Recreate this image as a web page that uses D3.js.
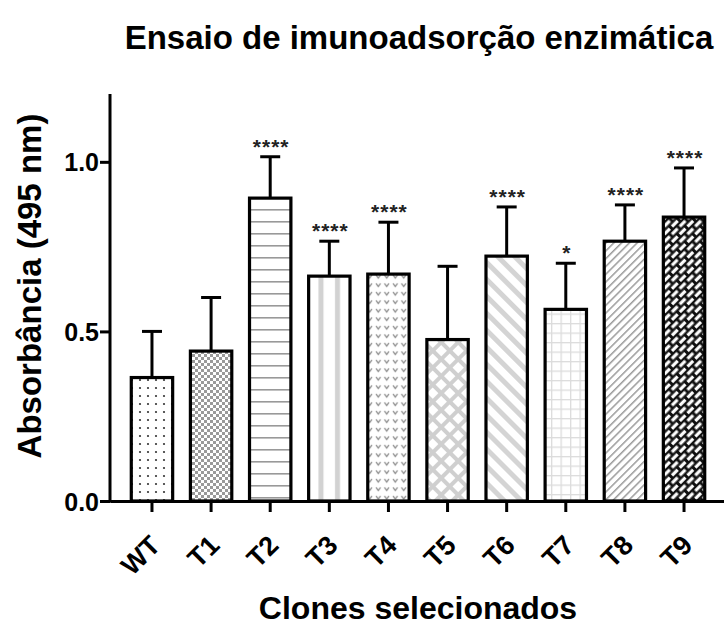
<!DOCTYPE html>
<html lang="en">
<head>
    <meta charset="utf-8">
    <title>Ensaio de imunoadsorção enzimática</title>
    <script src="https://cdn.jsdelivr.net/npm/d3@7"></script>
    <style type="text/css">
        body
        {
            margin: 0;
            background-color: white;
        }
        svg
        {
            font-family: "Liberation Sans", Arial, sans-serif;
        }
    </style>
</head>
<body>
    <div id="chart_div"></div>
    <script>
    "use strict";
    // values
    var clones = ["WT", "T1", "T2", "T3", "T4", "T5", "T6", "T7", "T8", "T9"];
    var means = [0.364, 0.442, 0.893, 0.663, 0.669, 0.476, 0.722, 0.565, 0.766, 0.837];
    var upperSD = [0.500, 0.600, 1.015, 0.766, 0.822, 0.692, 0.867, 0.701, 0.873, 0.982];
    var signif = ["", "", "****", "****", "****", "", "****", "*", "****", "****"];
    var yTicks = [0.0, 0.5, 1.0];
    var patternIds = ["p_dots", "p_check", "p_hlines", "p_vstripes", "p_vees", "p_diamond", "p_back", "p_grid", "p_fwd", "p_brick"];

    var svg_width = 724;
    var svg_height = 625;
    var left = 110, baseY = 501, topY = 94;

    var svg = d3.select("#chart_div")
        .append("svg")
        .attr("width", svg_width)
        .attr("height", svg_height);

    // ---- fill patterns ----
    var defs = svg.append("defs");
    function pat(id, w, h, rot)
    {
        var p = defs.append("pattern")
            .attr("id", id)
            .attr("patternUnits", "userSpaceOnUse")
            .attr("width", w)
            .attr("height", h);
        if (rot) p.attr("patternTransform", "rotate(" + rot + ")");
        p.append("rect").attr("width", w).attr("height", h).attr("fill", "white");
        return p;
    }
    var p;
    p = pat("p_dots", 8, 8);
    p.append("circle").attr("cx", 4).attr("cy", 4).attr("r", 1.1).attr("fill", "#333");

    p = pat("p_check", 6, 6);
    p.append("rect").attr("width", 3).attr("height", 3).attr("fill", "#9a9a9a");
    p.append("rect").attr("x", 3).attr("y", 3).attr("width", 3).attr("height", 3).attr("fill", "#9a9a9a");

    p = pat("p_hlines", 12, 12);
    p.append("rect").attr("y", 5).attr("width", 12).attr("height", 1.6).attr("fill", "#999");

    p = pat("p_vstripes", 16.5, 16.5);
    p.append("rect").attr("x", 5).attr("width", 5).attr("height", 16.5).attr("fill", "#d2d2d2");

    p = pat("p_vees", 8.5, 8.5);
    p.append("path").attr("d", "M2,3 L4.25,6 L6.5,3").attr("fill", "none")
        .attr("stroke", "#8a8a8a").attr("stroke-width", 1.3);

    p = pat("p_diamond", 12, 12, 45);
    p.append("rect").attr("width", 12).attr("height", 4).attr("fill", "#cfcfcf");
    p.append("rect").attr("width", 4).attr("height", 12).attr("fill", "#cfcfcf");

    p = pat("p_back", 12, 12, -45);
    p.append("rect").attr("width", 5).attr("height", 12).attr("fill", "#d4d4d4");

    p = pat("p_grid", 9.5, 9.5);
    p.append("rect").attr("width", 9.5).attr("height", 1.3).attr("fill", "#dcdcdc");
    p.append("rect").attr("width", 1.3).attr("height", 9.5).attr("fill", "#dcdcdc");

    p = pat("p_fwd", 5.5, 5.5, 45);
    p.append("rect").attr("width", 1.5).attr("height", 5.5).attr("fill", "#9a9a9a");

    p = pat("p_brick", 11, 11, -45);
    p.select("rect").attr("fill", "#111");
    p.append("rect").attr("x", 1.5).attr("y", 1.2).attr("width", 8).attr("height", 3.2).attr("fill", "white");
    p.append("rect").attr("x", -4).attr("y", 6.7).attr("width", 8).attr("height", 3.2).attr("fill", "white");
    p.append("rect").attr("x", 7).attr("y", 6.7).attr("width", 8).attr("height", 3.2).attr("fill", "white");

    // ---- scales ----
    var xscale = d3.scaleBand()
        .domain(clones)
        .range([left, 726])
        .paddingInner(0.3)
        .paddingOuter(0.36);
    var yscale = d3.scaleLinear()
        .domain([0, 1.2])
        .range([baseY, topY]);

    // ---- bars ----
    svg.selectAll("rect.bar")
        .data(clones)
        .enter()
        .append("rect")
        .attr("class", "bar")
        .attr("x", function(d) { return xscale(d); })
        .attr("y", function(d, i) { return yscale(means[i]); })
        .attr("width", xscale.bandwidth())
        .attr("height", function(d, i) { return baseY - yscale(means[i]); })
        .attr("fill", function(d, i) { return "url(#" + patternIds[i] + ")"; })
        .attr("stroke", "black")
        .attr("stroke-width", 3.2);

    // ---- error bars (upper only) ----
    var cx = function(d) { return xscale(d) + xscale.bandwidth() / 2; };
    svg.selectAll("line.err")
        .data(clones)
        .enter()
        .append("line")
        .attr("class", "err")
        .attr("x1", cx).attr("x2", cx)
        .attr("y1", function(d, i) { return yscale(means[i]); })
        .attr("y2", function(d, i) { return yscale(upperSD[i]); })
        .attr("stroke", "black")
        .attr("stroke-width", 3);
    svg.selectAll("line.cap")
        .data(clones)
        .enter()
        .append("line")
        .attr("class", "cap")
        .attr("x1", function(d) { return cx(d) - 10; })
        .attr("x2", function(d) { return cx(d) + 10; })
        .attr("y1", function(d, i) { return yscale(upperSD[i]); })
        .attr("y2", function(d, i) { return yscale(upperSD[i]); })
        .attr("stroke", "black")
        .attr("stroke-width", 3);

    // ---- significance stars ----
    svg.selectAll("text.sig")
        .data(clones)
        .enter()
        .append("text")
        .attr("class", "sig")
        .attr("x", function(d) { return cx(d) + 1; })
        .attr("y", function(d, i) { return yscale(upperSD[i]) - 3; })
        .attr("text-anchor", "middle")
        .style("font-size", "21px")
        .style("letter-spacing", "1px")
        .style("font-weight", "bold")
        .attr("fill", "#222")
        .text(function(d, i) { return signif[i]; });

    // ---- axes ----
    var yaxis = d3.axisLeft(yscale)
        .tickValues(yTicks)
        .tickFormat(d3.format(".1f"))
        .tickSize(10)
        .tickSizeOuter(0);
    var gy = svg.append("g")
        .attr("transform", "translate(" + left + ",0)")
        .call(yaxis);
    gy.select(".domain").attr("stroke-width", 3).attr("d", "M0," + topY + "V" + (baseY + 1.5));
    gy.selectAll(".tick line").attr("stroke-width", 3);
    gy.selectAll(".tick text")
        .attr("x", -11)
        .attr("dy", "0.36em")
        .style("font-size", "25px")
        .style("font-weight", "bold")
        .attr("fill", "black");

    var xaxis = d3.axisBottom(xscale)
        .tickSize(11)
        .tickSizeOuter(0);
    var gx = svg.append("g")
        .attr("transform", "translate(0," + baseY + ")")
        .call(xaxis);
    gx.select(".domain").attr("stroke-width", 3);
    gx.selectAll(".tick line").attr("stroke-width", 3);
    gx.selectAll(".tick text")
        .attr("text-anchor", "end")
        .attr("x", 0)
        .attr("y", 0)
        .attr("dy", 0)
        .attr("transform", "translate(10,46) rotate(-45)")
        .style("font-size", "27px")
        .style("font-weight", "bold")
        .attr("fill", "black");

    // ---- titles ----
    svg.append("text")
        .attr("x", 419)
        .attr("y", 49)
        .attr("text-anchor", "middle")
        .style("font-size", "33px")
        .style("font-weight", "bold")
        .text("Ensaio de imunoadsorção enzimática");

    svg.append("text")
        .attr("x", 418)
        .attr("y", 619)
        .attr("text-anchor", "middle")
        .style("font-size", "32px")
        .style("font-weight", "bold")
        .text("Clones selecionados");

    svg.append("text")
        .attr("transform", "translate(41,286) rotate(-90)")
        .attr("text-anchor", "middle")
        .style("font-size", "33px")
        .style("font-weight", "bold")
        .text("Absorbância (495 nm)");
    </script>
</body>
</html>
